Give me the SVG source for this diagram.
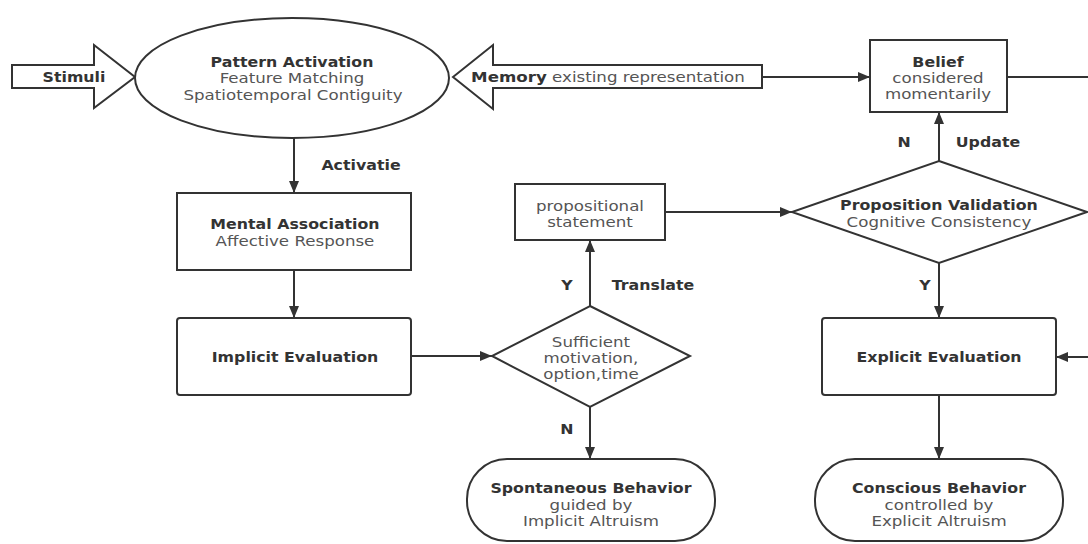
<svg xmlns="http://www.w3.org/2000/svg" width="1088" height="544" viewBox="0 0 1088 544">
<defs>
<marker id="ah" viewBox="0 0 12 10" refX="12" refY="5" markerWidth="12" markerHeight="10" markerUnits="userSpaceOnUse" orient="auto">
<path d="M0,0 L12,5 L0,10 Z" fill="#333"/>
</marker>
<style>
.s{fill:#fff;stroke:#333;stroke-width:2}
.c{fill:none;stroke:#333;stroke-width:2}
text{font-family:"DejaVu Sans","Open Sans",sans-serif;font-size:14px;text-anchor:middle;dominant-baseline:central;fill:#555;transform-box:fill-box;transform-origin:center;transform:scaleX(1.19)}
text.b{transform:scaleX(1.13)}
.b{font-weight:bold;fill:#333}
</style>
</defs>
<rect width="1088" height="544" fill="#fff"/>
<g id="connectors">
<line class="c" x1="294" y1="138" x2="294" y2="193" marker-end="url(#ah)"/>
<line class="c" x1="294" y1="270" x2="294" y2="318" marker-end="url(#ah)"/>
<line class="c" x1="411" y1="356" x2="492" y2="356" marker-end="url(#ah)"/>
<line class="c" x1="590" y1="306" x2="590" y2="240" marker-end="url(#ah)"/>
<line class="c" x1="590" y1="407" x2="590" y2="459" marker-end="url(#ah)"/>
<line class="c" x1="665" y1="212" x2="792" y2="212" marker-end="url(#ah)"/>
<line class="c" x1="939" y1="161" x2="939" y2="112" marker-end="url(#ah)"/>
<line class="c" x1="939" y1="263" x2="939" y2="318" marker-end="url(#ah)"/>
<line class="c" x1="939" y1="395" x2="939" y2="459" marker-end="url(#ah)"/>
<line class="c" x1="762" y1="77" x2="870" y2="77" marker-end="url(#ah)"/>
<line class="c" x1="1007" y1="77" x2="1090" y2="77"/>
<line class="c" x1="1090" y1="357" x2="1056" y2="357" marker-end="url(#ah)"/>
<text class="b" x="361" y="165">Activatie</text>
<text class="b" x="567" y="285">Y</text>
<text class="b" x="653" y="285">Translate</text>
<text class="b" x="567" y="429">N</text>
<text class="b" x="904" y="142">N</text>
<text class="b" x="988" y="142">Update</text>
<text class="b" x="925" y="285">Y</text>
</g>
<g id="stimuli">
<path class="s" d="M12,65 L94,65 L94,45 L135,77 L94,108 L94,88 L12,88 Z"/>
<text class="b" x="74" y="77">Stimuli</text>
</g>
<g id="pattern-activation">
<ellipse class="s" cx="292" cy="78" rx="157" ry="60"/>
<text class="b" x="292" y="62">Pattern Activation</text>
<text x="292" y="78">Feature Matching</text>
<text x="293" y="95">Spatiotemporal Contiguity</text>
</g>
<g id="memory">
<path class="s" d="M453,77 L493,45 L493,65 L762,65 L762,88 L493,88 L493,109 Z"/>
<text x="608" y="77"><tspan class="b">Memory</tspan> existing representation</text>
</g>
<g id="belief">
<rect class="s" x="870" y="40" width="137" height="72"/>
<text class="b" x="938" y="62">Belief</text>
<text x="938" y="78">considered</text>
<text x="938" y="94">momentarily</text>
</g>
<g id="mental-association">
<rect class="s" x="177" y="193" width="234" height="77"/>
<text class="b" x="295" y="224">Mental Association</text>
<text x="295" y="241">Affective Response</text>
</g>
<g id="implicit-evaluation">
<rect class="s" x="177" y="318" width="234" height="77" rx="3"/>
<text class="b" x="295" y="357">Implicit Evaluation</text>
</g>
<g id="propositional-statement">
<rect class="s" x="515" y="184" width="150" height="56"/>
<text x="590" y="206">propositional</text>
<text x="590" y="222">statement</text>
</g>
<g id="sufficient">
<path class="s" d="M590,306 L690,356 L590,407 L492,356 Z"/>
<text x="591" y="342">Sufficient</text>
<text x="591" y="358">motivation,</text>
<text x="591" y="374">option,time</text>
</g>
<g id="proposition-validation">
<path class="s" d="M939,161 L1087,212 L939,263 L792,212 Z"/>
<text class="b" x="939" y="205">Proposition Validation</text>
<text x="939" y="222">Cognitive Consistency</text>
</g>
<g id="explicit-evaluation">
<rect class="s" x="822" y="318" width="234" height="77" rx="3"/>
<text class="b" x="939" y="357">Explicit Evaluation</text>
</g>
<g id="spontaneous-behavior">
<rect class="s" x="467" y="459" width="248" height="82" rx="40" ry="40"/>
<text class="b" x="591" y="488">Spontaneous Behavior</text>
<text x="591" y="505">guided by</text>
<text x="591" y="521">Implicit Altruism</text>
</g>
<g id="conscious-behavior">
<rect class="s" x="815" y="459" width="248" height="82" rx="40" ry="40"/>
<text class="b" x="939" y="488">Conscious Behavior</text>
<text x="939" y="505">controlled by</text>
<text x="939" y="521">Explicit Altruism</text>
</g>
</svg>
